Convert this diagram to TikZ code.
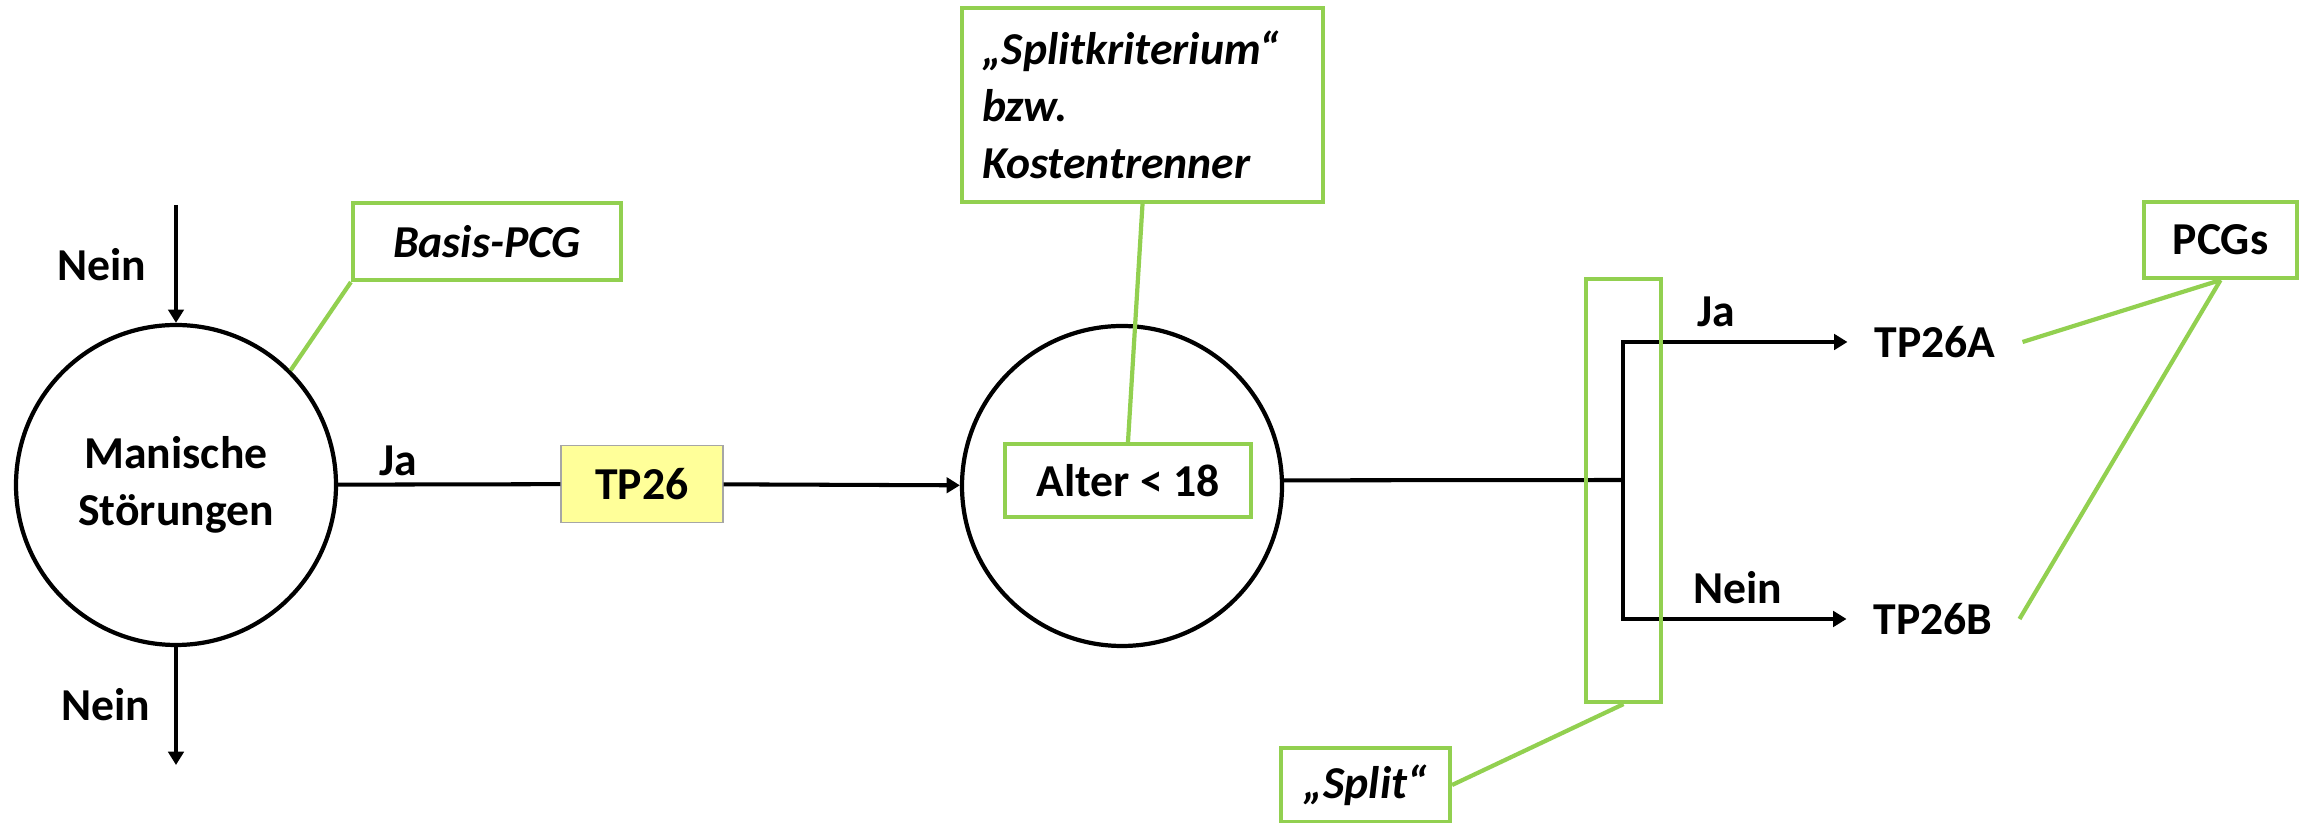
\documentclass[tikz,border=0pt]{standalone}
\usepackage{fontspec}
\setmainfont{Carlito}
\usetikzlibrary{arrows.meta}
\definecolor{pcggreen}{HTML}{92D050}
\definecolor{tpyellow}{HTML}{FFFF99}
\newcommand{\diafont}{\fontsize{13}{16.2}\selectfont\bfseries}
\tikzset{>={Triangle[length=3.8pt,width=4.4pt]}}

\begin{document}
\begin{tikzpicture}[font=\diafont]
\useasboundingbox (0,0) rectangle (23.06,8.23);
\begin{scope}[every node/.style={circle,draw,line width=1.2pt,minimum size=3.2cm,align=center}]
\node (M) at (1.76,3.38) {Manische\\Störungen};
\node (K) at (11.22,3.37) {};
\end{scope}
\node [draw=gray!70,fill=tpyellow,minimum width=1.62cm,minimum height=0.77cm] (TP) at (6.42,3.39) {TP26};
\begin{scope}[every node/.style={inner xsep=7.5pt}]
\node (A) at (19.35,4.81) {TP26A};
\node (B) at (19.33,2.04) {TP26B};
\node (nein1) at (1.02,5.58) {Nein};
\node (nein2) at (1.06,1.18) {Nein};
\node (ja1) at (3.98,3.62) {Ja};
\node (ja2) at (17.16,5.11) {Ja};
\node (nein3) at (17.38,2.35) {Nein};
\end{scope}
\coordinate (in) at (1.76,6.18);
\coordinate (out) at (1.76,0.58);
\coordinate (J) at (16.23,3.43);
\begin{scope}[every edge/.style={draw=black,line width=1.15pt}]
    \path [->] (in) edge (M);
    \path [->] (M) edge (out);
    \path (M) edge (TP);
    \path [->] (TP) edge (K);
    \path (K.2) edge (J);
\end{scope}
\draw [->,line width=1.15pt] (J) |- (A);
\draw [->,line width=1.15pt] (J) |- (B);
% green notes
\begin{scope}[every node/.style={draw=pcggreen,line width=1.2pt}]
\node [minimum width=2.46cm,minimum height=0.73cm] (alter) at (11.28,3.425) {Alter < 18};
\node [minimum width=2.68cm,minimum height=0.77cm,font=\diafont\itshape] (basis) at (4.87,5.815) {Basis-PCG};
\node [text width=3.21cm,inner xsep=0.2cm,minimum height=1.94cm,align=left,font=\diafont\itshape] (krit) at (11.425,7.18) {„Splitkriterium“\\bzw.\\Kostentrenner};
\node [minimum width=1.53cm,minimum height=0.76cm] (pcgs) at (22.205,5.83) {PCGs};
\node [minimum width=0.75cm,minimum height=4.23cm] (split) at (16.235,3.325) {};
\node [minimum width=1.69cm,minimum height=0.74cm,font=\diafont\itshape] (splitlbl) at (13.655,0.38) {„Split“};
\end{scope}
\begin{scope}[every edge/.style={draw=pcggreen,line width=1.2pt}]
    \path (M.45) edge (basis.south west);
    \path (krit.south) edge (alter.north);
    \path (split.south) edge (splitlbl.east);
    \path (pcgs.south) edge (A.east);
    \path (pcgs.south) edge (B.east);
\end{scope}
\end{tikzpicture}
\end{document}
